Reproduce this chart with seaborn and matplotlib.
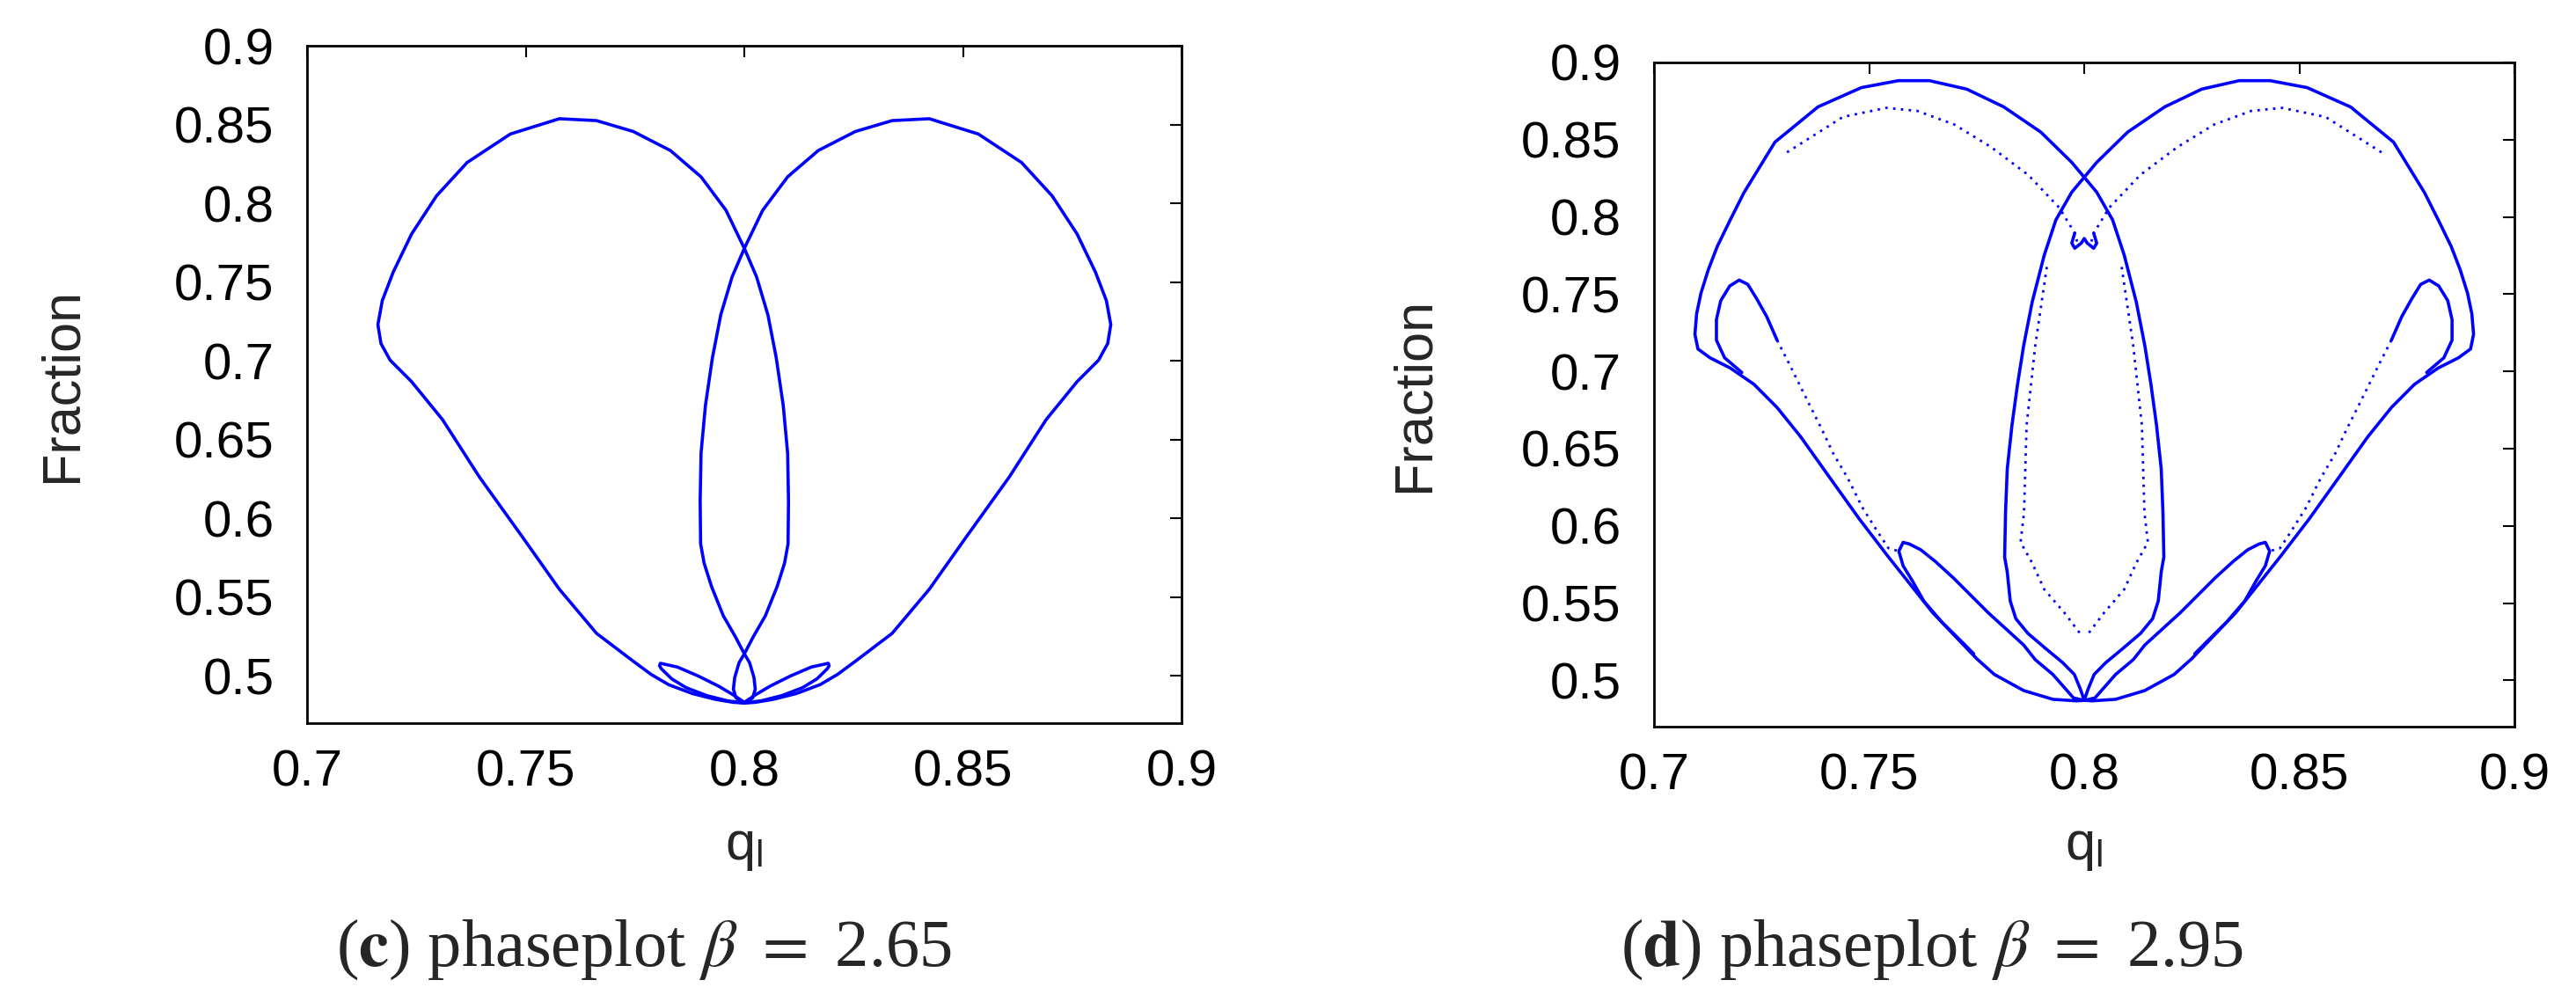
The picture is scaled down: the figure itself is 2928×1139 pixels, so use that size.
import numpy as np
import matplotlib
matplotlib.use("Agg")
import matplotlib.pyplot as plt
import seaborn as sns

# ---- panel (c): beta = 2.65 ----
c_left_q = [0.8000, 0.7975, 0.7934, 0.7881, 0.7827, 0.7787, 0.7746, 0.7662, 0.7577, 0.7493,
            0.7394, 0.7310, 0.7239, 0.7190, 0.7169, 0.7162, 0.7172, 0.7197, 0.7239, 0.7296,
            0.7366, 0.7465, 0.7577, 0.7662, 0.7746, 0.7831, 0.7901, 0.7958, 0.8000, 0.8028,
            0.8054, 0.8073, 0.8089, 0.8099, 0.8101, 0.8100, 0.8092, 0.8075, 0.8048, 0.8021,
            0.8000, 0.7988, 0.7978, 0.7975, 0.7981, 0.8000]
c_right_q = [0.8000, 0.8025, 0.8066, 0.8119, 0.8173, 0.8213, 0.8254, 0.8338, 0.8423, 0.8507,
             0.8606, 0.8690, 0.8761, 0.8810, 0.8831, 0.8838, 0.8828, 0.8803, 0.8761, 0.8704,
             0.8634, 0.8535, 0.8423, 0.8338, 0.8254, 0.8169, 0.8099, 0.8042, 0.8000, 0.7972,
             0.7946, 0.7927, 0.7911, 0.7901, 0.7899, 0.7900, 0.7908, 0.7925, 0.7952, 0.7979,
             0.8000, 0.8012, 0.8022, 0.8025, 0.8019, 0.8000]
# both lobes read at the same heights
c_lobe_f = [0.4828, 0.4832, 0.4851, 0.4888, 0.4944, 0.5009, 0.5093, 0.5270, 0.5550, 0.5880,
            0.6263, 0.6626, 0.6868, 0.7004, 0.7110, 0.7230, 0.7382, 0.7563, 0.7805, 0.8047,
            0.8259, 0.8440, 0.8537, 0.8525, 0.8456, 0.8335, 0.8168, 0.7956, 0.7714, 0.7533,
            0.7291, 0.7019, 0.6716, 0.6414, 0.6111, 0.5839, 0.5716, 0.5567, 0.5381, 0.5251,
            0.5140, 0.5084, 0.4990, 0.4916, 0.4860, 0.4827]

c_petal_left_q = [0.8000, 0.7975, 0.7941, 0.7894, 0.7847, 0.7808, 0.7806, 0.7810, 0.7834, 0.7867, 0.7914, 0.7961, 0.8000]
c_petal_right_q = [0.8000, 0.8025, 0.8059, 0.8106, 0.8153, 0.8192, 0.8194, 0.8190, 0.8166, 0.8133, 0.8086, 0.8039, 0.8000]
c_petal_f = [0.4832, 0.4879, 0.4935, 0.5000, 0.5056, 0.5080, 0.5065, 0.5046, 0.4981, 0.4925, 0.4875, 0.4842, 0.4828]

# ---- panel (d): beta = 2.95 ----
d_left_q = [0.8000, 0.7982, 0.7927, 0.7859, 0.7791, 0.7750, 0.7648, 0.7545, 0.7477, 0.7409,
            0.7341, 0.7286, 0.7232, 0.7177, 0.7130, 0.7102, 0.7095, 0.7099, 0.7109, 0.7126,
            0.7147, 0.7177, 0.7209, 0.7281, 0.7381, 0.7482, 0.7568, 0.7640, 0.7727, 0.7813,
            0.7899, 0.7971, 0.8029, 0.8066, 0.8093, 0.8121, 0.8141, 0.8155, 0.8168, 0.8179,
            0.8183, 0.8185, 0.8179, 0.8172, 0.8159, 0.8131, 0.8091, 0.8050, 0.8023, 0.8009, 0.8000]
d_right_q = [0.8000, 0.8018, 0.8073, 0.8141, 0.8209, 0.8250, 0.8352, 0.8455, 0.8523, 0.8591,
             0.8659, 0.8714, 0.8768, 0.8823, 0.8870, 0.8898, 0.8905, 0.8901, 0.8891, 0.8874,
             0.8853, 0.8823, 0.8791, 0.8719, 0.8619, 0.8518, 0.8432, 0.8360, 0.8273, 0.8187,
             0.8101, 0.8029, 0.7971, 0.7934, 0.7907, 0.7879, 0.7859, 0.7845, 0.7832, 0.7821,
             0.7817, 0.7815, 0.7821, 0.7828, 0.7841, 0.7869, 0.7909, 0.7950, 0.7977, 0.7991, 0.8000]
d_lobe_f = [0.4870, 0.4867, 0.4877, 0.4934, 0.5038, 0.5140, 0.5437, 0.5798, 0.6045, 0.6310,
            0.6576, 0.6766, 0.6917, 0.7022, 0.7088, 0.7145, 0.7240, 0.7373, 0.7506, 0.7657,
            0.7809, 0.7980, 0.8157, 0.8484, 0.8712, 0.8837, 0.8882, 0.8882, 0.8827, 0.8712,
            0.8549, 0.8353, 0.8160, 0.7980, 0.7752, 0.7449, 0.7164, 0.6917, 0.6652, 0.6367,
            0.6083, 0.5798, 0.5702, 0.5513, 0.5399, 0.5304, 0.5209, 0.5114, 0.5038, 0.4943, 0.4871]

# upper hooks
d_hook_left_q = [0.7204, 0.7164, 0.7145, 0.7145, 0.7155, 0.7176, 0.7198, 0.7218, 0.7239, 0.7262, 0.7286]
d_hook_right_q = [0.8796, 0.8836, 0.8855, 0.8855, 0.8845, 0.8824, 0.8802, 0.8782, 0.8761, 0.8738, 0.8714]
d_hook_f = [0.6993, 0.7088, 0.7202, 0.7335, 0.7458, 0.7553, 0.7591, 0.7563, 0.7468, 0.7354, 0.7202]

# dotted trail from the upper hook down to the lower hook
d_trail_left_q = [0.7286, 0.7314, 0.7341, 0.7368, 0.7392, 0.7416, 0.7450, 0.7484, 0.7518, 0.7545, 0.7569]
d_trail_right_q = [0.8714, 0.8686, 0.8659, 0.8632, 0.8608, 0.8584, 0.8550, 0.8516, 0.8482, 0.8455, 0.8431]
d_trail_f = [0.7202, 0.7050, 0.6898, 0.6747, 0.6614, 0.6471, 0.6310, 0.6120, 0.5969, 0.5855, 0.5836]

# lower hooks
d_low_left_q = [0.7743, 0.7709, 0.7668, 0.7627, 0.7600, 0.7579, 0.7569, 0.7579, 0.7593, 0.7620,
                0.7654, 0.7695, 0.7736, 0.7777, 0.7818, 0.7859, 0.7886, 0.7927, 0.7975, 0.8000]
d_low_right_q = [0.8257, 0.8291, 0.8332, 0.8373, 0.8400, 0.8421, 0.8431, 0.8421, 0.8407, 0.8380,
                 0.8346, 0.8305, 0.8264, 0.8223, 0.8182, 0.8141, 0.8114, 0.8073, 0.8025, 0.8000]
d_low_f = [0.5172, 0.5267, 0.5380, 0.5513, 0.5646, 0.5741, 0.5836, 0.5893, 0.5883, 0.5845,
           0.5769, 0.5665, 0.5551, 0.5437, 0.5333, 0.5229, 0.5134, 0.5038, 0.4886, 0.4870]

# inner arcs under the tops
d_arc_left_q = [0.7309, 0.7439, 0.7540, 0.7612, 0.7698, 0.7784, 0.7870, 0.7942, 0.7978, 0.7986]
d_arc_right_q = [0.8691, 0.8561, 0.8460, 0.8388, 0.8302, 0.8216, 0.8130, 0.8058, 0.8022, 0.8014]
d_arc_f = [0.8418, 0.8647, 0.8706, 0.8686, 0.8598, 0.8451, 0.8271, 0.8059, 0.7895, 0.7814]

# inner strands of the central drop
d_tear_left_q = [0.7913, 0.7886, 0.7866, 0.7860, 0.7852, 0.7879, 0.7907, 0.7954, 0.7995]
d_tear_right_q = [0.8087, 0.8114, 0.8134, 0.8140, 0.8148, 0.8121, 0.8093, 0.8046, 0.8005]
d_tear_f = [0.7676, 0.7164, 0.6652, 0.6083, 0.5893, 0.5760, 0.5589, 0.5437, 0.5286]

# small knot at the top of the drop
d_knot_q = [0.7978, 0.7971, 0.7978, 0.7993, 0.8000, 0.8007, 0.8022, 0.8029, 0.8022]
d_knot_f = [0.7895, 0.7830, 0.7797, 0.7830, 0.7860, 0.7830, 0.7797, 0.7830, 0.7895]

x_ticks = [0.7, 0.75, 0.8, 0.85, 0.9]
y_ticks = [0.5, 0.55, 0.6, 0.65, 0.7, 0.75, 0.8, 0.85, 0.9]
captions = [("c", "2.65"), ("d", "2.95")]

BLUE = "#0000ff"

sns.set_theme(style="white")
plt.rcParams['font.family'] = ['Liberation Sans', 'DejaVu Sans']
plt.rcParams['mathtext.fontset'] = 'stix'


def draw(ax, q, f, dotted=False):
    if dotted:
        sns.lineplot(x=q, y=f, sort=False, estimator=None, ax=ax, color=BLUE,
                     linewidth=2.0, linestyle=(0, (1, 2.2)), legend=False)
    else:
        sns.lineplot(x=q, y=f, sort=False, estimator=None, ax=ax, color=BLUE,
                     linewidth=2.6, legend=False)


fig = plt.figure(figsize=(29.28, 11.39), dpi=100)
ax_c = fig.add_axes([0.1192, 0.2783, 0.3395, 0.6760])
ax_d = fig.add_axes([0.6421, 0.2748, 0.3340, 0.6629])

# panel c
draw(ax_c, c_left_q, c_lobe_f)
draw(ax_c, c_right_q, c_lobe_f)
draw(ax_c, c_petal_left_q, c_petal_f)
draw(ax_c, c_petal_right_q, c_petal_f)

# panel d
draw(ax_d, d_left_q, d_lobe_f)
draw(ax_d, d_right_q, d_lobe_f)
draw(ax_d, d_hook_left_q, d_hook_f)
draw(ax_d, d_hook_right_q, d_hook_f)
draw(ax_d, d_trail_left_q, d_trail_f, dotted=True)
draw(ax_d, d_trail_right_q, d_trail_f, dotted=True)
draw(ax_d, d_low_left_q, d_low_f)
draw(ax_d, d_low_right_q, d_low_f)
draw(ax_d, d_arc_left_q, d_arc_f, dotted=True)
draw(ax_d, d_arc_right_q, d_arc_f, dotted=True)
draw(ax_d, d_tear_left_q, d_tear_f, dotted=True)
draw(ax_d, d_tear_right_q, d_tear_f, dotted=True)
draw(ax_d, d_knot_q, d_knot_f)

for ax in (ax_c, ax_d):
    ax.set_xlim(0.7, 0.9)
    ax.set_ylim(0.47, 0.9)
    ax.set_xticks(x_ticks)
    ax.set_yticks(y_ticks)
    ax.set_xticklabels([f"{v:g}" for v in x_ticks])
    ax.set_yticklabels([f"{v:g}" for v in y_ticks])
    ax.tick_params(direction='in', length=9.5, width=1.5, top=True, right=True,
                   labelsize=42, colors='black')
    ax.tick_params(axis='x', pad=21)
    ax.tick_params(axis='y', pad=27)
    for s in ax.spines.values():
        s.set_linewidth(2)
        s.set_color('black')
    ax.set_xlabel(r"q$_\mathregular{l}$", fontsize=44)
    ax.set_ylabel("Fraction", fontsize=44)
    ax.grid(False)

ax_c.xaxis.set_label_coords(0.5, -0.147)
ax_d.xaxis.set_label_coords(0.5, -0.144)
ax_c.yaxis.set_label_coords(-0.2515, 0.5)
ax_d.yaxis.set_label_coords(-0.2495, 0.5)

for xpos, (letter, beta) in zip([0.25, 0.75], captions):
    fig.text(xpos, 0.036, rf"($\mathbf{{{letter}}}$) phaseplot $\beta$ $=$ {beta}",
             ha='center', va='baseline', fontsize=55, family='Liberation Serif')

fig.savefig("out.png", dpi=100, facecolor='white')
